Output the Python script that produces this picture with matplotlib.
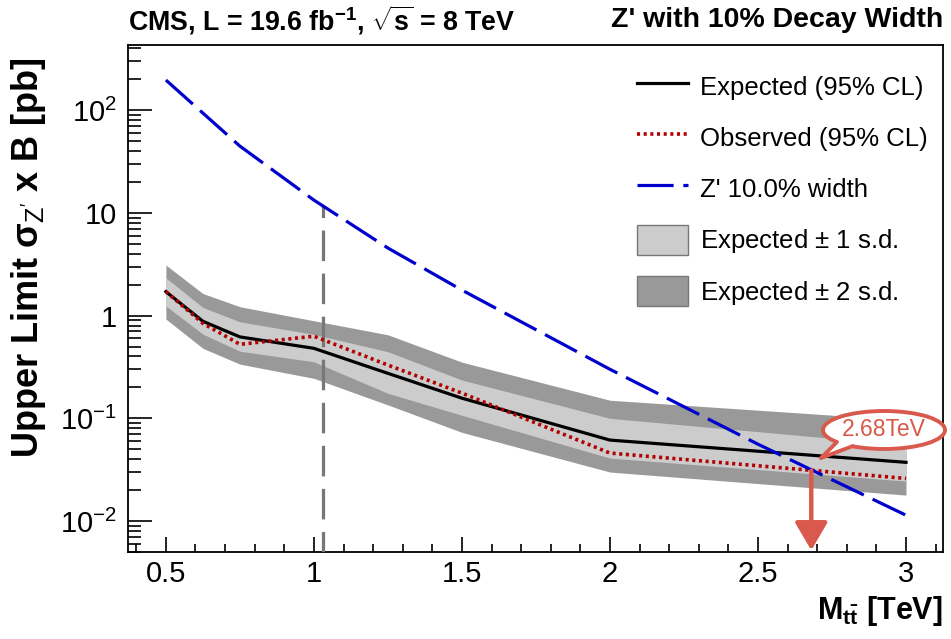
import matplotlib
matplotlib.use('Agg')
import matplotlib.pyplot as plt
import numpy as np
from matplotlib.ticker import FixedLocator, FuncFormatter, MultipleLocator, LogLocator, NullFormatter
from matplotlib.patches import Ellipse, Polygon, Patch
from matplotlib.lines import Line2D

# Limit values (pb)
mass = [0.5, 0.625, 0.75, 1.0, 1.25, 1.5, 2.0, 3.0]
expected = [1.71, 0.88, 0.62, 0.48, 0.274, 0.157, 0.0614, 0.0373]
observed = [1.71, 0.84, 0.525, 0.63, 0.33, 0.176, 0.0459, 0.026]
exp_1s_up = [2.33, 1.20, 0.87, 0.656, 0.445, 0.236, 0.100, 0.055]
exp_1s_dn = [1.24, 0.66, 0.45, 0.355, 0.175, 0.107, 0.041, 0.0245]
exp_2s_up = [3.10, 1.64, 1.22, 0.89, 0.65, 0.352, 0.150, 0.096]
exp_2s_dn = [0.925, 0.48, 0.337, 0.245, 0.135, 0.073, 0.030, 0.0179]

# Z' 10% width theory curve
mass_zp = [0.5, 0.75, 1.0, 1.25, 1.5, 2.0, 2.5, 3.0]
xsec_zp = [196, 44.6, 13.3, 4.54, 1.77, 0.30, 0.056, 0.0114]

limit_mass = 2.68
limit_xsec = 0.031
vline_mass = 1.03
vline_top = 12.0

ytick_vals = [1e-2, 1e-1, 1, 10, 100]
ytick_text = {1e-2: r'$10^{-2}$', 1e-1: r'$10^{-1}$', 1: '1', 10: '10', 100: r'$10^{2}$'}

plt.rcParams['font.family'] = ['Liberation Sans', 'DejaVu Sans']
plt.rcParams['mathtext.fontset'] = 'custom'
plt.rcParams['mathtext.rm'] = 'Liberation Sans'
plt.rcParams['mathtext.it'] = 'Liberation Sans:italic'
plt.rcParams['mathtext.bf'] = 'Liberation Sans:bold'
plt.rcParams['lines.scale_dashes'] = False

fig = plt.figure(figsize=(9.51, 6.39), dpi=100)
ax = fig.add_axes([128 / 951, 87 / 639, 815 / 951, 507 / 639])

ax.fill_between(mass, exp_2s_dn, exp_2s_up, color='#999999', lw=0, zorder=1)
ax.fill_between(mass, exp_1s_dn, exp_1s_up, color='#cccccc', lw=0, zorder=2)
ax.plot(mass, expected, color='black', lw=2.3, zorder=4)
ax.plot(mass, observed, color='#b30000', lw=2.6, dashes=(2.2, 2.6), zorder=5)
ax.plot(mass_zp, xsec_zp, color='#0000cc', lw=2.3, dashes=(26, 7), zorder=6)

# vertical marker
ax.plot([vline_mass, vline_mass], [4e-3, vline_top], color='#777777', lw=2.3,
        dashes=(22, 9), zorder=3)

ax.set_yscale('log')
ax.set_xlim(0.372, 3.125)
ax.set_ylim(5e-3, 430)

ax.yaxis.set_major_locator(FixedLocator(ytick_vals))
ax.yaxis.set_major_formatter(FuncFormatter(lambda v, p: ytick_text.get(v, '')))
ax.yaxis.set_minor_locator(LogLocator(base=10, subs=np.arange(2, 10)))
ax.yaxis.set_minor_formatter(NullFormatter())
ax.xaxis.set_major_locator(MultipleLocator(0.5))
ax.xaxis.set_minor_locator(MultipleLocator(0.1))
ax.xaxis.set_major_formatter(FuncFormatter(lambda v, p: f'{v:g}'))

ax.tick_params(axis='both', which='both', direction='in', top=False, right=False,
               width=1.2, labelsize=21)
ax.tick_params(axis='y', which='major', length=17, pad=8)
ax.tick_params(axis='y', which='minor', length=9)
ax.tick_params(axis='x', which='major', length=11, pad=6)
ax.tick_params(axis='x', which='minor', length=6)
for s in ax.spines.values():
    s.set_linewidth(1.3)

ax.set_ylabel(r"Upper Limit σ$_{\mathrm{Z'}}$ x B [pb]", fontsize=26, fontweight='bold')
ax.yaxis.set_label_coords(-0.098, 0.58)
ax.set_xlabel(r"$\mathbf{M_{t\bar{t}}}$ [TeV]", fontsize=22, fontweight='bold')
ax.xaxis.set_label_coords(1.0, -0.082)
ax.xaxis.label.set_horizontalalignment('right')

fig.text(128 / 951, 1 - 20 / 639, r"CMS, L = 19.6 fb$^{\mathbf{-1}}$, $\sqrt{\mathbf{s}}$ = 8 TeV",
         fontsize=19.3, fontweight='bold', ha='left', va='center')
fig.text(943 / 951, 1 - 20 / 639, "Z' with 10% Decay Width",
         fontsize=20.5, fontweight='bold', ha='right', va='center')

handles = [
    Line2D([], [], color='black', lw=2.3),
    Line2D([], [], color='#b30000', lw=2.6, dashes=(2.2, 2.6)),
    Line2D([], [], color='#0000cc', lw=2.3, dashes=(26, 7)),
    Patch(facecolor='#cccccc', edgecolor='#777777', lw=1),
    Patch(facecolor='#999999', edgecolor='#777777', lw=1),
]
labels = ['Expected (95% CL)', 'Observed (95% CL)', "Z' 10.0% width",
          r'Expected $\pm$ 1 s.d.', r'Expected $\pm$ 2 s.d.']
ax.legend(handles, labels, loc='upper left', bbox_to_anchor=(0.6245, 0.948),
          frameon=False, fontsize=18.5, handlelength=2.0, handleheight=1.45,
          handletextpad=0.45, labelspacing=0.8, borderpad=0, borderaxespad=0)

# callout for the limit
red = '#d9594c'
ax.annotate('', xy=(limit_mass, 5.2e-3), xytext=(limit_mass, limit_xsec),
            arrowprops=dict(arrowstyle='-|>,head_length=0.85,head_width=0.5',
                            color=red, lw=3.2, mutation_scale=20,
                            shrinkA=0, shrinkB=0), zorder=8)


def px(x, y):
    return ((x - 128) / 815, 1 - (y - 45) / 507)


ell = Ellipse(px(884, 430), 122 / 815, 38 / 507, transform=ax.transAxes,
              facecolor='white', edgecolor=red, lw=2.8, zorder=9, clip_on=False)
ax.add_patch(ell)
tail = Polygon([px(837, 442), px(821, 458), px(853, 446), px(858, 436), px(840, 436)],
               closed=True, transform=ax.transAxes, facecolor='white',
               edgecolor='none', zorder=10, clip_on=False)
ax.add_patch(tail)
for a, b in [((837, 442), (821, 458)), ((853, 446), (821, 458))]:
    p0, p1 = px(*a), px(*b)
    ax.plot([p0[0], p1[0]], [p0[1], p1[1]], color=red, lw=2.8,
            transform=ax.transAxes, zorder=11, clip_on=False, solid_capstyle='round')
ax.text(*px(884, 430), '2.68TeV', transform=ax.transAxes, color=red,
        fontsize=16.5, ha='center', va='center', zorder=12)

fig.savefig('out.png', dpi=100)
